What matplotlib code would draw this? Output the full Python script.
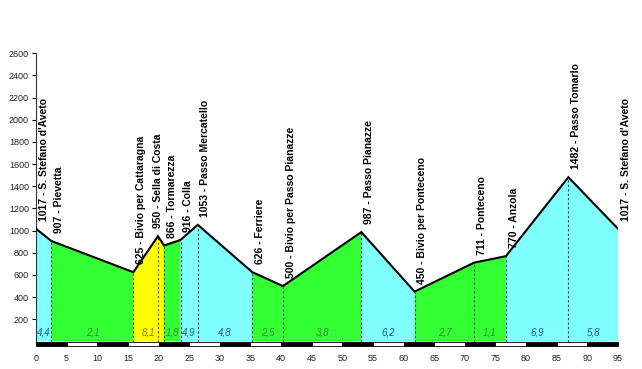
import matplotlib
matplotlib.use("Agg")
import matplotlib.pyplot as plt
from matplotlib.patches import Rectangle, Polygon
import numpy as np

plt.rcParams['font.family'] = ['Liberation Sans', 'DejaVu Sans']

# waypoints
km = [0, 2.5, 15.9, 19.9, 20.9, 23.6, 26.4, 35.3, 40.3, 53.1, 61.8, 71.5, 76.7, 86.9, 95.0]
alt = [1017, 907, 625, 950, 866, 916, 1053, 626, 500, 987, 450, 711, 770, 1482, 1017]
names = ["S. Stefano d'Aveto", "Pievetta", "Bivio per Cattaragna", "Sella di Costa",
         "Tormarezza", "Colla", "Passo Mercatello", "Ferriere", "Bivio per Passo Pianazze",
         "Passo Pianazze", "Bivio per Ponteceno", "Ponteceno", "Anzola", "Passo Tomarlo",
         "S. Stefano d'Aveto"]

# segments (gradient in %)
seg_bounds = [0, 2.5, 15.9, 20.9, 23.6, 26.4, 35.3, 40.3, 53.1, 61.8, 71.5, 76.7, 86.9, 95.0]
seg_grad = ["4,4", "2,1", "8,1", "1,8", "4,9", "4,8", "2,5", "3,8", "6,2", "2,7", "1,1", "6,9", "5,8"]
seg_class = ["c", "g", "y", "g", "c", "c", "g", "g", "c", "g", "g", "c", "c"]

y_ticks = [200, 400, 600, 800, 1000, 1200, 1400, 1600, 1800, 2000, 2200, 2400, 2600]
x_ticks = [0, 5, 10, 15, 20, 25, 30, 35, 40, 45, 50, 55, 60, 65, 70, 75, 80, 85, 90, 95]

fill_col = {"c": "#80ffff", "g": "#33ff33", "y": "#ffff00"}
text_col = {"c": "#1f5f8f", "g": "#2e8b2e", "y": "#8b7d00"}
line_col = {"c": "#1f3f6f", "g": "#1e5e1e", "y": "#5e5e00"}

fig = plt.figure(figsize=(6.42, 3.69), dpi=100)
ax = fig.add_axes([36/642, (369-341.5)/369, (618-36)/642, (341.5-53.3)/369])

kma = np.array(km)
alta = np.array(alt)

for i in range(len(seg_grad)):
    a, b = seg_bounds[i], seg_bounds[i+1]
    inner = [(k, h) for k, h in zip(km, alt) if a < k < b]
    pts = [(a, np.interp(a, kma, alta))] + inner + [(b, np.interp(b, kma, alta)), (b, 0), (a, 0)]
    ax.add_patch(Polygon(pts, closed=True, facecolor=fill_col[seg_class[i]], edgecolor='none', zorder=1))
    ax.text((a+b)/2, 40, seg_grad[i], ha='center', va='bottom', fontsize=7, style='italic',
            color=text_col[seg_class[i]], zorder=4)

# dashed vertical lines at internal waypoints
for i in range(1, len(km)-1):
    k = km[i]
    j = np.searchsorted(seg_bounds, k, side='right') - 1
    j = min(j, len(seg_class)-1)
    ax.plot([k, k], [0, alt[i]], linestyle=(0, (2, 2)), linewidth=0.8,
            color=line_col[seg_class[j]], zorder=2)

ax.plot(km, alt, color='black', linewidth=1.5, zorder=3, solid_joinstyle='miter')

# labels
for idx, (k, h, n) in enumerate(zip(km, alt, names)):
    if idx == 3:
        ax.text(k, h + 70, f"{h} - {n}", rotation=90, ha='center', va='bottom',
                fontsize=7.5, fontweight='bold', color='black', zorder=5)
    else:
        ax.text(k + 0.45, h + 70, f"{h} - {n}", rotation=90, ha='left', va='bottom',
                fontsize=7.5, fontweight='bold', color='black', zorder=5)

# scale bar
for i in range(len(x_ticks)-1):
    x0 = x_ticks[i]
    ax.add_patch(Rectangle((x0, -38), 5, 38, facecolor='black' if i % 2 == 0 else 'white',
                           edgecolor='black', linewidth=0.6, clip_on=False, zorder=4))

ax.set_xlim(0, 95)
ax.set_ylim(0, 2600)
ax.set_yticks(y_ticks)
ax.set_yticklabels([str(v) for v in y_ticks], fontsize=6.5, color='#222222')
ax.set_xticks(x_ticks)
ax.set_xticklabels([str(v) for v in x_ticks], fontsize=6.5, color='#222222')
ax.tick_params(axis='x', length=0, pad=9)
ax.tick_params(axis='y', length=3, width=0.8, direction='out', pad=2)
for s in ['top', 'right', 'bottom']:
    ax.spines[s].set_visible(False)
ax.spines['left'].set_linewidth(0.8)
ax.spines['left'].set_color('#333333')
ax.set_facecolor('none')

fig.savefig('out.png', dpi=100)
